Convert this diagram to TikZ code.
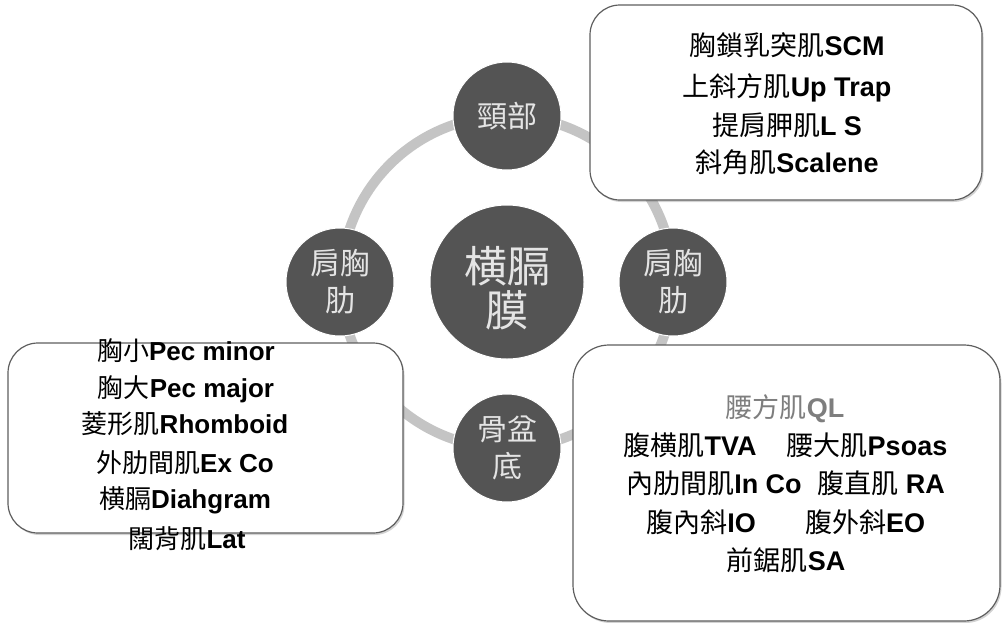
\documentclass[tikz,border=0pt]{standalone}
\usepackage{fontspec}
\setmainfont{Liberation Sans}
\newfontfamily\cjk{Noto Sans CJK TC}
\usetikzlibrary{shadows}
\definecolor{ringgray}{HTML}{C4C4C4}
\definecolor{discgray}{HTML}{545454}
\definecolor{disctext}{HTML}{E4E4E4}
\definecolor{boxline}{HTML}{5E5E5E}
\definecolor{qlgray}{HTML}{7E7E7E}
\newcommand\lbl[2]{{\cjk #1}\textbf{#2}}
\tikzset{
  ring/.style={draw=ringgray, line width=10pt},
  disc/.style={circle, fill=discgray, draw=white, line width=1pt, inner sep=0pt, text=disctext, align=center, font=\cjk\fontsize{30}{37}\selectfont},
  bigdisc/.style={disc, font=\cjk\fontsize{43}{44}\selectfont},
  panel/.style={draw=boxline, line width=1.2pt, fill=white, drop shadow={shadow xshift=1.5pt, shadow yshift=-2pt, opacity=0.35}},
  item/.style={anchor=base, inner sep=0pt, font=\fontsize{27}{39}\selectfont},
  itemL/.style={anchor=base, inner sep=0pt, font=\fontsize{26}{37}\selectfont}
}
\begin{document}
\begin{tikzpicture}[x=1pt,y=-1pt]
\useasboundingbox (0,0) rectangle (1004,622);
\clip (0,0) rectangle (1004,622);
% ring
\draw[ring] (507,282) circle[radius=166pt];
% discs
\node[bigdisc, minimum size=154pt] (core) at (507,282) {}; 
\node[inner sep=0pt, text=disctext, align=center, font=\cjk\fontsize{43}{44}\selectfont] (corelabel) at (507,288) {横膈\\膜};
\node[disc, minimum size=108pt] (neck) at (507,116) {頸部};
\node[disc, minimum size=108pt] (left) at (340,282) {肩胸\\肋};
\node[disc, minimum size=108pt] (right) at (673,282) {肩胸\\肋};
\node[disc, minimum size=108pt] (pelvis) at (507,448) {骨盆\\底};
% panels
\draw[panel, rounded corners=30pt] (590,5) rectangle (982,200);
\draw[panel, rounded corners=30pt] (8,343) rectangle (403,533);
\draw[panel, rounded corners=36pt] (573,345) rectangle (1000,621);
% top-right text
\node[item] (t1) at (787,55) {\lbl{胸鎖乳突肌}{SCM}};
\node[item] (t2) at (787,96) {\lbl{上斜方肌}{Up Trap}};
\node[item] (t3) at (787,135) {\lbl{提肩胛肌}{L S}};
\node[item] (t4) at (787,172) {\lbl{斜角肌}{Scalene}};
% left text
\node[itemL] (l1) at (186,360) {\lbl{胸小}{Pec minor}};
\node[itemL] (l2) at (186,397) {\lbl{胸大}{Pec major}};
\node[itemL] (l3) at (185,433) {\lbl{菱形肌}{Rhomboid}};
\node[itemL] (l4) at (185,472) {\lbl{外肋間肌}{Ex Co}};
\node[itemL] (l5) at (185,508) {\lbl{横膈}{Diahgram}};
\node[itemL] (l6) at (187,548) {\lbl{闊背肌}{Lat}};
% right text
\node[item, text=qlgray] (r0) at (785,417) {\lbl{腰方肌}{QL}};
\node[item] (r1) at (690,455) {\lbl{腹横肌}{TVA}};
\node[item] (r2) at (867,455) {\lbl{腰大肌}{Psoas}};
\node[item] (r3) at (714,493) {\lbl{內肋間肌}{In Co}};
\node[item] (r4) at (881,493) {\lbl{腹直肌}{ RA}};
\node[item] (r5) at (701,532) {\lbl{腹內斜}{IO}};
\node[item] (r6) at (865,532) {\lbl{腹外斜}{EO}};
\node[item] (r7) at (786,570) {\lbl{前鋸肌}{SA}};
\end{tikzpicture}
\end{document}
